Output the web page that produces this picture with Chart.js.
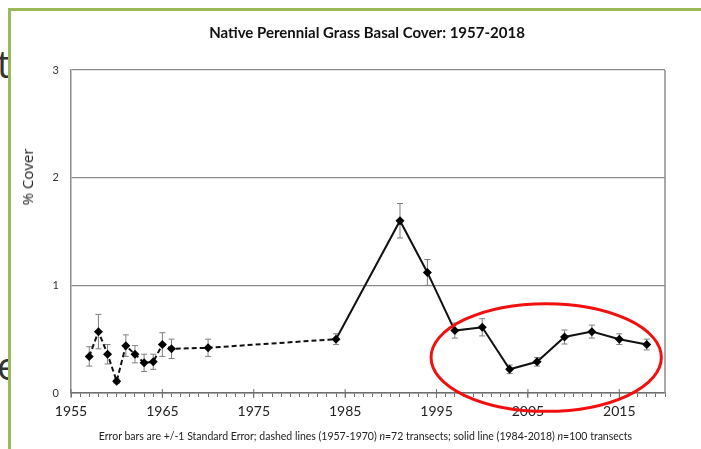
<!DOCTYPE html>
<html>
<head>
<meta charset="utf-8">
<script src="https://cdn.jsdelivr.net/npm/chart.js@4"></script>
<style>
  html, body { margin: 0; padding: 0; background: #fff; }
  #wrap { position: relative; width: 701px; height: 449px; overflow: hidden; font-family: Lato, "Open Sans", sans-serif; }
  #chart { position: absolute; left: 0; top: 0; }
  .green-top { position: absolute; left: 8px; top: 8px; width: 700px; height: 3px; background: #9bbb59; }
  .green-left { position: absolute; left: 8px; top: 8px; width: 3px; height: 450px; background: #9bbb59; }
  .clip { position: absolute; left: 0; width: 8px; overflow: hidden; color: #333; font-family: "Open Sans", sans-serif; font-size: 38px; line-height: 1; }
  #title { position: absolute; left: 0; width: 734px; top: 23px; text-align: center; font-weight: bold; font-size: 15px; color: #111; }
  #ytitle { position: absolute; left: 27px; top: 177px; transform: translate(-50%, -50%) rotate(-90deg); font-size: 15px; color: #222; white-space: nowrap; font-family: "Open Sans", sans-serif; }
  #note { position: absolute; left: 0; width: 731px; top: 430px; text-align: center; font-size: 10.5px; color: #222; white-space: nowrap; }
</style>
</head>
<body>
<div id="wrap">
  <div class="clip" style="top:44px;height:40px;"><span style="position:relative;left:-3px;">t</span></div>
  <div class="clip" style="top:346px;height:36px;"><span style="position:relative;left:-3px;">e</span></div>
  <canvas id="chart" width="701" height="449"></canvas>
  <div class="green-top"></div>
  <div class="green-left"></div>
  <div id="title">Native Perennial Grass Basal Cover: 1957-2018</div>
  <div id="ytitle">% Cover</div>
  <div id="note">Error bars are +/-1 Standard Error; dashed lines (1957-1970) <i>n</i>=72 transects; solid line (1984-2018) <i>n</i>=100 transects</div>
</div>
<script>
// survey years and mean basal cover (%)
const years = [1957, 1958, 1959, 1960, 1961, 1962, 1963, 1964, 1965, 1966, 1970,
               1984, 1991, 1994, 1997, 2000, 2003, 2006, 2009, 2012, 2015, 2018];
const cover = [0.34, 0.57, 0.36, 0.11, 0.44, 0.36, 0.28, 0.29, 0.45, 0.41, 0.42,
               0.50, 1.60, 1.12, 0.58, 0.61, 0.22, 0.29, 0.52, 0.57, 0.50, 0.45];
const stdErr = [0.09, 0.16, 0.09, 0.02, 0.10, 0.08, 0.08, 0.07, 0.11, 0.09, 0.08,
                0.05, 0.16, 0.12, 0.07, 0.08, 0.04, 0.04, 0.065, 0.06, 0.05, 0.05];
const dashedUntil = 1984; // old transect method up to here
const xMin = 1955, xMax = 2020;
const yTicks = [0, 1, 2, 3];

// highlight ellipse (data units)
const ring = { x: 2007, y: 0.33, rx: 12.6, ry: 0.5 };

const points = years.map((y, i) => ({ x: y, y: cover[i] }));

const errorBars = {
    id: 'errorBars',
    beforeDatasetsDraw(chart) {
        const { ctx, scales: { x, y } } = chart;
        ctx.save();
        ctx.strokeStyle = '#7f7f7f';
        ctx.lineWidth = 1;
        years.forEach((yr, i) => {
            const px = x.getPixelForValue(yr);
            const top = y.getPixelForValue(cover[i] + stdErr[i]);
            const bot = y.getPixelForValue(cover[i] - stdErr[i]);
            ctx.beginPath();
            ctx.moveTo(px, top); ctx.lineTo(px, bot);
            ctx.moveTo(px - 3, top); ctx.lineTo(px + 3, top);
            ctx.moveTo(px - 3, bot); ctx.lineTo(px + 3, bot);
            ctx.stroke();
        });
        ctx.restore();
    }
};

const frame = {
    id: 'frame',
    afterDraw(chart) {
        const { ctx, chartArea: a, scales: { x, y } } = chart;
        ctx.save();
        // right border
        ctx.strokeStyle = '#8c8c8c';
        ctx.lineWidth = 1.5;
        ctx.beginPath();
        ctx.moveTo(a.right, a.top); ctx.lineTo(a.right, a.bottom);
        ctx.stroke();
        // decade ticks cross the axis
        ctx.strokeStyle = '#6e6e6e';
        ctx.lineWidth = 1;
        for (let v = xMin; v <= xMax; v += 10) {
            const px = x.getPixelForValue(v);
            ctx.beginPath();
            ctx.moveTo(px, a.bottom - 4); ctx.lineTo(px, a.bottom + 5);
            ctx.stroke();
        }
        // red ellipse
        const cx = x.getPixelForValue(ring.x);
        const cy = y.getPixelForValue(ring.y);
        const rx = Math.abs(x.getPixelForValue(ring.x + ring.rx) - cx);
        const ry = Math.abs(y.getPixelForValue(ring.y + ring.ry) - cy);
        ctx.strokeStyle = '#f01010';
        ctx.lineWidth = 3;
        ctx.beginPath();
        ctx.ellipse(cx, cy, rx, ry, 0, 0, Math.PI * 2);
        ctx.stroke();
        ctx.restore();
    }
};

new Chart(document.getElementById('chart'), {
    type: 'line',
    data: {
        datasets: [{
            data: points,
            borderColor: '#111',
            borderWidth: 2,
            backgroundColor: '#000',
            pointStyle: 'rectRot',
            pointRadius: 4.5,
            pointBorderWidth: 0,
            tension: 0,
            segment: {
                borderDash: ctx => ctx.p1.parsed.x <= dashedUntil ? [5, 3] : []
            }
        }]
    },
    options: {
        responsive: false,
        animation: false,
        layout: { padding: { top: 70, right: 36, left: 0, bottom: 0 } },
        plugins: { legend: { display: false }, tooltip: { enabled: false } },
        scales: {
            x: {
                type: 'linear',
                min: xMin,
                max: xMax,
                afterBuildTicks: s => { s.ticks = []; for (let v = xMin; v <= xMax; v++) s.ticks.push({ value: v }); },
                afterFit: s => { s.height = 56; s.paddingLeft = 0; s.paddingRight = 0; },
                ticks: {
                    autoSkip: false,
                    maxRotation: 0,
                    padding: 6,
                    color: '#222',
                    font: { family: 'Lato', size: 14 },
                    callback: v => ((v - xMin) % 10 === 0 ? String(v) : '')
                },
                grid: { drawOnChartArea: false, drawTicks: true, tickLength: 4, color: '#6e6e6e' },
                border: { color: '#6e6e6e', width: 1.5 }
            },
            y: {
                min: 0,
                max: 3,
                afterBuildTicks: s => { s.ticks = yTicks.map(v => ({ value: v })); },
                afterFit: s => { s.width = 71; },
                ticks: {
                    padding: 12,
                    color: '#333',
                    font: { family: 'Lato', size: 11 }
                },
                grid: { color: '#8c8c8c', lineWidth: 1.2, drawTicks: false },
                border: { color: '#8c8c8c', width: 1.5 }
            }
        }
    },
    plugins: [errorBars, frame]
});
</script>
</body>
</html>
